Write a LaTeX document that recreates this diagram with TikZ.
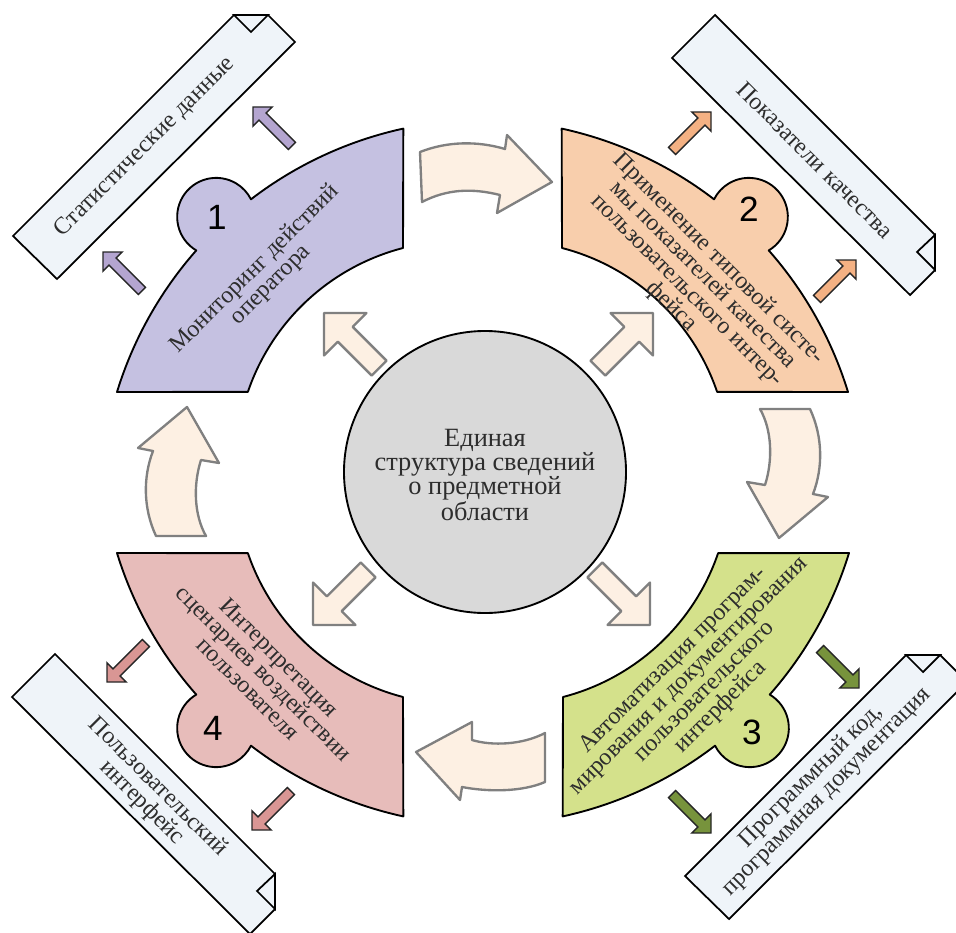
\documentclass[tikz,border=0pt]{standalone}
\usepackage{fontspec}
\setmainfont{Liberation Serif}
\newfontfamily\numfont{Liberation Sans}
\definecolor{cA}{RGB}{197,193,225}
\definecolor{cB}{RGB}{248,206,172}
\definecolor{cC}{RGB}{212,225,139}
\definecolor{cD}{RGB}{231,188,186}
\definecolor{aA}{RGB}{180,165,208}
\definecolor{aB}{RGB}{244,177,131}
\definecolor{aC}{RGB}{119,147,60}
\definecolor{aD}{RGB}{217,150,148}
\definecolor{paleF}{RGB}{253,240,227}
\definecolor{paleD}{RGB}{128,128,128}
\definecolor{scrollF}{RGB}{239,244,249}
\definecolor{circF}{RGB}{217,217,217}
\definecolor{txtC}{RGB}{45,45,45}
\tikzset{
  shp/.style={draw=black, line width=1.6pt, line join=round},
  pale/.style={fill=paleF, draw=paleD, line width=2pt, line join=round},
  scrollbox/.style={fill=scrollF, draw=black, line width=1.5pt, line join=miter},
  txt/.style={font=\fontsize{20.5}{19}\selectfont, text=txtC, align=center, inner sep=0pt},
  numtxt/.style={font=\numfont\fontsize{30}{30}\selectfont, inner sep=0pt, text=black},
  smallarr/.pic={\path[pic actions] (0,0) -- (-13.5,13.5) -- (-13.5,5) -- (-55,5) -- (-55,-5) -- (-13.5,-5) -- (-13.5,-13.5) -- cycle;},
  bigarr/.pic={\path[pic actions] (0,0) -- (-30,30) -- (-30,10.5) -- (-78,10.5) -- (-78,-10.5) -- (-30,-10.5) -- (-30,-30) -- cycle;},
}
\newcommand\quadshape{(117,392) arc[start angle=-162.93, end angle=-138.6, radius=385] arc[start angle=120.7, end angle=333.2, radius=39] arc[start angle=-127.5, end angle=-102.3, radius=385] -- (403,248) arc[start angle=-104.53, end angle=-161.16, radius=223] -- cycle}
\newcommand\scrollA{(13,236) -- (234,15) -- (268,15) -- (295,42) -- (57,279) -- cycle}
\newcommand\foldA{(234,15) -- (251,32) -- (268,15) -- cycle}
\newcommand\scrollB{(672,58) -- (715,15) -- (935,235) -- (935,270) -- (910,295) -- cycle}
\newcommand\foldB{(935,235) -- (917,252) -- (935,270) -- cycle}
\begin{document}
\begin{tikzpicture}[x=0.03cm,y=-0.03cm]
\useasboundingbox (0,0) rectangle (956,933);
\clip (0,0) rectangle (956,933);
% scrolls
\path[scrollbox] \scrollA; \path[scrollbox] \foldA;
\begin{scope}[shift={(672,640)}]
\path[scrollbox] \scrollA; \path[scrollbox] \foldA;
\end{scope}
\path[scrollbox] \scrollB; \path[scrollbox] \foldB;
\begin{scope}[shift={(-660,639)}]
\path[scrollbox] \scrollB; \path[scrollbox] \foldB;
\end{scope}
% quadrant shapes
\path[shp, fill=cA] \quadshape;
\begin{scope}[shift={(965,0)},xscale=-1]
\path[shp, fill=cB] \quadshape;
\end{scope}
\begin{scope}[shift={(966,945)},xscale=-1,yscale=-1]
\path[shp, fill=cC] \quadshape;
\end{scope}
\begin{scope}[shift={(0,945)},yscale=-1]
\path[shp, fill=cD] \quadshape;
\end{scope}
% curved arrows
\path[pale] (420,152) .. controls (448,141) and (478,141) .. (505,149) -- (507,135) -- (552,182) -- (497,213) -- (500,195) .. controls (472,188) and (447,189) .. (422,202) -- cycle;
\path[pale] (760,409) -- (810,409) .. controls (823,437) and (823,468) .. (813,494) -- (828,497) -- (779,538) -- (747,482) -- (765,485) .. controls (773,460) and (772,430) .. (760,409) -- cycle;
\path[pale] (545,733) -- (545,782) .. controls (522,792) and (488,792) .. (462,787) -- (460,800) -- (416,752) -- (472,722) -- (472,740) .. controls (492,746) and (522,745) .. (545,733) -- cycle;
\path[pale] (206,536) -- (156,536) .. controls (143,508) and (143,477) .. (153,451) -- (138,448) -- (187,407) -- (219,463) -- (201,460) .. controls (193,485) and (194,515) .. (206,536) -- cycle;
% center circle
\node[circle, draw=black, line width=1.6pt, fill=circF, minimum size=8.46cm, inner sep=0pt] (core) at (485,472) {};
\node[txt, font=\fontsize{22.5}{20.5}\selectfont] (coretext) at (485,475) {Единая\\структура сведений\\о предметной\\области};
% straight pale arrows
\pic[pale, rotate=135] at (324,313) {bigarr};
\pic[pale, rotate=45] at (653,313) {bigarr};
\pic[pale, rotate=-45] at (650,625) {bigarr};
\pic[pale, rotate=-135] at (313,625) {bigarr};
% small arrows
\pic[fill=aA, draw=black!85, line width=1.2pt, rotate=135] at (103,252) {smallarr};
\pic[fill=aA, draw=black!85, line width=1.2pt, rotate=135] at (253,107) {smallarr};
\pic[fill=aB, draw=black!85, line width=1.2pt, rotate=45] at (711,112) {smallarr};
\pic[fill=aB, draw=black!85, line width=1.2pt, rotate=45] at (856,260) {smallarr};
\pic[fill=aC, draw=black!85, line width=1.2pt, rotate=-45] at (859,688) {smallarr};
\pic[fill=aC, draw=black!85, line width=1.2pt, rotate=-45] at (711,833) {smallarr};
\pic[fill=aD, draw=black!85, line width=1.2pt, rotate=-135] at (107,682) {smallarr};
\pic[fill=aD, draw=black!85, line width=1.2pt, rotate=-135] at (252,830) {smallarr};
% numbers
\node[numtxt] (n1) at (217,217) {1};
\node[numtxt] (n2) at (749,209) {2};
\node[numtxt] (n3) at (752,732) {3};
\node[numtxt] (n4) at (213,728) {4};
% shape texts
\node[txt, rotate=45] (t1) at (263,277) {Мониторинг действий\\оператора};
\node[txt, rotate=-45] (t2) at (695,283) {Применение типовой систе-\\мы показателей качества\\пользовательского интер-\\фейса};
\node[txt, rotate=45] (t3) at (697,684) {Автоматизация програм-\\мирования и документирования\\пользовательского\\интерфейса};
\node[txt, rotate=-45] (t4) at (264,673) {Интерпретация\\сценариев воздействии\\пользователя};
% scroll texts
\node[txt, rotate=45] (s1) at (145,147) {Статистические данные};
\node[txt, rotate=-45] (s2) at (815,160) {Показатели качества};
\node[txt, rotate=45] (s3) at (819,784) {Программный код,\\программная документация};
\node[txt, rotate=-45] (s4) at (150,795) {Пользовательский\\интерфейс};
\end{tikzpicture}
\end{document}
